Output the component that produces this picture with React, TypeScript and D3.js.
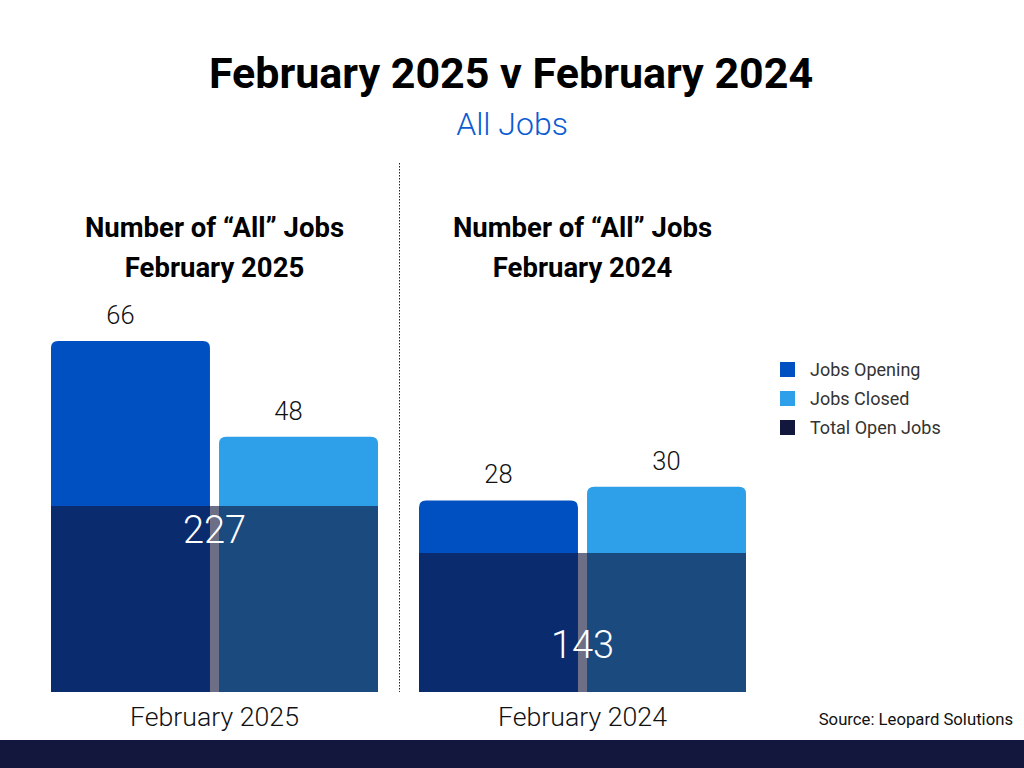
import React from "react";
import * as d3 from "d3";

const series = ["Jobs Opening", "Jobs Closed"];
const totalName = "Total Open Jobs";
const categories = ["February 2025", "February 2024"];
const panelTitles = ["February 2025", "February 2024"];
const jobsOpening = [66, 28];
const jobsClosed = [48, 30];
const totalOpen = [227, 143];

const colors = {
  opening: "#0050c2",
  closed: "#2ea0e9",
  total: "#111339",
  legendTotal: "#13163d",
  band: "#13163d",
};

// layout per panel (positions / scale ranges only)
const panels = [
  { x0: 51, x1: 378, barMax: 73.7, totalMax: 478.4, labelDx: -10, totalLabelY: 543 },
  { x0: 419, x1: 746, barMax: 57.3, totalMax: 403.3, labelDx: 0, totalLabelY: 658 },
];

const W = 1024;
const H = 768;
const baseY = 692;
const topY = 300;

function topRounded(x: number, y: number, w: number, h: number, r: number) {
  const rr = Math.min(r, h, w / 2);
  return `M${x},${y + h}V${y + rr}Q${x},${y} ${x + rr},${y}H${x + w - rr}Q${x + w},${y} ${x + w},${y + rr}V${y + h}Z`;
}

export default function App() {
  const font = "Roboto, 'Noto Sans', sans-serif";
  return (
    <svg
      width={W}
      height={H}
      viewBox={`0 0 ${W} ${H}`}
      style={{ position: "absolute", left: 0, top: 0, background: "#fff" }}
      fontFamily={font}
    >
      <rect x={0} y={0} width={W} height={H} fill="#fff" />
      <text x={511} y={88} textAnchor="middle" fontSize={43} fontWeight={700} fill="#000">
        February 2025 v February 2024
      </text>
      <text x={512} y={135} textAnchor="middle" fontSize={32} fontWeight={300} fill="#0b5bd3">
        All Jobs
      </text>

      <line x1={399.5} x2={399.5} y1={163} y2={692} stroke="#222" strokeWidth={1} strokeDasharray="1.5,1.5" />

      {categories.map((cat, i) => {
        const p = panels[i];
        const x = d3.scaleBand<string>().domain(series).range([p.x0, p.x1]).paddingInner(0.054);
        const y = d3.scaleLinear().domain([0, p.barMax]).range([baseY, topY]);
        const yt = d3.scaleLinear().domain([0, p.totalMax]).range([baseY, topY]);
        const vals = [jobsOpening[i], jobsClosed[i]];
        const fills = [colors.opening, colors.closed];
        const cx = (p.x0 + p.x1) / 2;
        return (
          <g key={cat}>
            <text x={cx} y={237} textAnchor="middle" fontSize={27.5} fontWeight={700} fill="#000">
              Number of “All” Jobs
            </text>
            <text x={cx} y={277} textAnchor="middle" fontSize={27.5} fontWeight={700} fill="#000">
              {panelTitles[i]}
            </text>
            {series.map((s, j) => (
              <g key={s}>
                <path
                  d={topRounded(x(s)!, y(vals[j]), x.bandwidth(), baseY - y(vals[j]), 7)}
                  fill={fills[j]}
                />
                <text
                  x={x(s)! + x.bandwidth() / 2 + p.labelDx}
                  y={y(vals[j]) - 17}
                  textAnchor="middle"
                  fontSize={25.5}
                  fontWeight={300}
                  fill="#111"
                >
                  {vals[j]}
                </text>
              </g>
            ))}
            <rect
              x={p.x0}
              y={yt(totalOpen[i])}
              width={p.x1 - p.x0}
              height={baseY - yt(totalOpen[i])}
              fill={colors.total}
              fillOpacity={0.61}
            />
            <text x={cx} y={p.totalLabelY} textAnchor="middle" fontSize={38} fontWeight={300} fill="#fff">
              {totalOpen[i]}
            </text>
            <text x={cx} y={726} textAnchor="middle" fontSize={26.7} fontWeight={300} fill="#111">
              {cat}
            </text>
          </g>
        );
      })}

      {[...series, totalName].map((s, k) => (
        <g key={s} transform={`translate(780,${362 + k * 29})`}>
          <rect width={15} height={15} fill={[colors.opening, colors.closed, colors.legendTotal][k]} />
          <text x={30} y={14} fontSize={18} fontWeight={400} fill="#333">
            {s}
          </text>
        </g>
      ))}

      <text x={1013} y={725} textAnchor="end" fontSize={16.7} fill="#111">
        Source: Leopard Solutions
      </text>
      <rect x={0} y={740} width={W} height={28} fill={colors.band} />
    </svg>
  );
}
